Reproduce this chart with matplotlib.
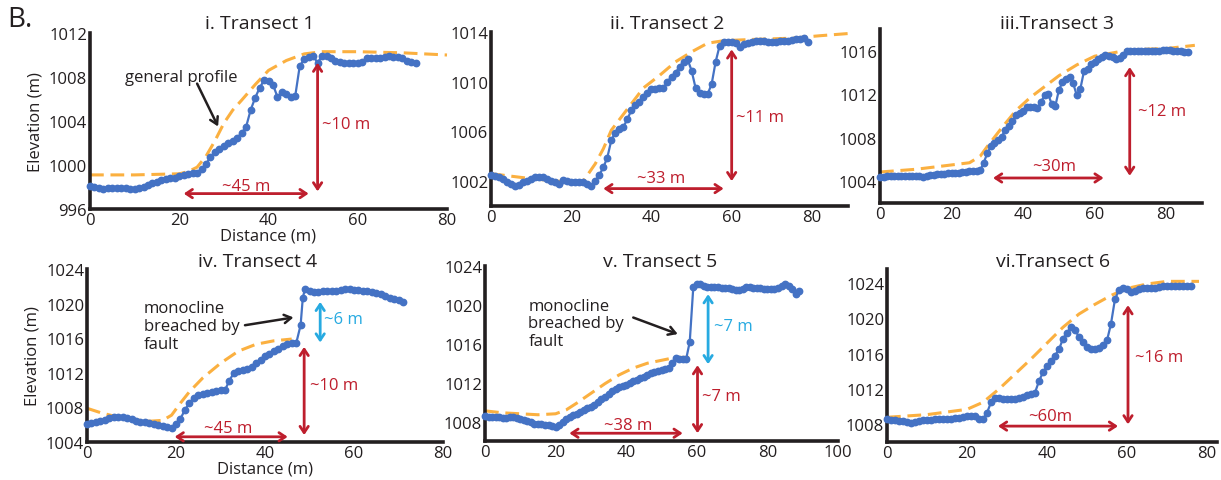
import matplotlib.pyplot as plt

plt.rcParams['font.family'] = ['Open Sans', 'DejaVu Sans']

# transect 1 (distance every metre)
t1_dist = list(range(0, 74))
t1_elev = [998.1, 998.0, 997.9, 997.85, 997.9, 997.95, 997.9, 997.95, 997.9, 997.85,
           997.85, 997.9, 998.0, 998.2, 998.35, 998.5, 998.6, 998.7, 998.8, 998.85,
           999.0, 999.1, 999.2, 999.25, 999.3, 999.6, 1000.1, 1000.7, 1001.2, 1001.5,
           1001.7, 1002.0, 1002.2, 1002.5, 1002.9, 1003.5, 1005.0, 1006.1, 1007.0, 1007.7,
           1007.6, 1007.3, 1006.2, 1006.6, 1006.5, 1006.2, 1006.3, 1009.0, 1009.6, 1009.8,
           1009.9, 1009.3, 1009.9, 1009.9, 1009.7, 1009.5, 1009.4, 1009.3, 1009.3, 1009.3,
           1009.3, 1009.4, 1009.7, 1009.7, 1009.7, 1009.7, 1009.8, 1009.9, 1009.8, 1009.8,
           1009.7, 1009.5, 1009.4, 1009.3]
t1_prof_dist = [0, 10, 20, 22, 24, 26, 28, 30, 32, 34, 37, 40, 44, 48, 52, 60, 70, 80]
t1_prof_elev = [999.1, 999.1, 999.2, 999.4, 999.8, 1000.8, 1002.2, 1003.8, 1005.0, 1005.9, 1007.3,
                1008.6, 1009.5, 1010.1, 1010.3, 1010.3, 1010.2, 1010.0]

# transect 2
t2_dist = list(range(0, 80))
t2_elev = [1002.5, 1002.45, 1002.35, 1002.2, 1001.9, 1001.75, 1001.6, 1001.7, 1001.9, 1002.0,
           1002.2, 1002.35, 1002.35, 1002.35, 1002.2, 1002.0, 1001.9, 1001.8, 1002.1, 1002.0,
           1001.9, 1001.95, 1001.95, 1001.9, 1001.8, 1001.6, 1002.0, 1002.5, 1003.1, 1003.9,
           1005.3, 1005.9, 1006.2, 1006.35, 1007.0, 1007.7, 1008.1, 1008.4, 1008.8, 1009.1,
           1009.4, 1009.45, 1009.5, 1009.5, 1010.0, 1010.4, 1010.7, 1011.2, 1011.6, 1011.8,
           1010.9, 1009.5, 1009.1, 1009.0, 1009.0, 1009.8, 1011.6, 1012.9, 1013.2, 1013.2,
           1013.2, 1013.1, 1012.8, 1013.0, 1013.1, 1013.2, 1013.3, 1013.3, 1013.25, 1013.2,
           1013.2, 1013.2, 1013.25, 1013.3, 1013.3, 1013.35, 1013.4, 1013.45, 1013.5, 1013.2]
t2_prof_dist = [0, 10, 20, 23, 26, 28, 30, 34, 38, 42, 46, 50, 54, 58, 65, 75, 82, 90]
t2_prof_elev = [1002.6, 1002.2, 1001.9, 1002.0, 1003.4, 1004.6, 1006.1, 1007.8, 1009.5, 1010.5,
                1011.6, 1012.4, 1013.1, 1013.3, 1013.4, 1013.5, 1013.7, 1013.9]

# transect 3
t3_dist = list(range(0, 87))
t3_elev = [1004.4, 1004.4, 1004.45, 1004.45, 1004.5, 1004.5, 1004.5, 1004.5, 1004.5, 1004.5,
           1004.5, 1004.45, 1004.4, 1004.5, 1004.55, 1004.6, 1004.65, 1004.7, 1004.7, 1004.75,
           1004.8, 1004.8, 1004.8, 1004.85, 1004.85, 1004.9, 1004.9, 1004.95, 1005.0, 1005.7,
           1006.6, 1007.2, 1007.5, 1007.8, 1008.1, 1008.7, 1009.1, 1009.5, 1010.1, 1010.3,
           1010.5, 1010.8, 1010.8, 1010.8, 1010.7, 1011.3, 1011.9, 1012.0, 1011.1, 1010.9,
           1012.4, 1013.1, 1013.4, 1013.6, 1013.0, 1011.9, 1012.5, 1014.1, 1014.3, 1014.8,
           1015.0, 1015.2, 1015.4, 1015.6, 1015.5, 1015.4, 1015.2, 1015.3, 1015.6, 1016.0,
           1016.0, 1016.0, 1016.0, 1015.95, 1015.95, 1015.95, 1015.95, 1016.0, 1016.0, 1016.05,
           1016.1, 1016.05, 1016.0, 1016.0, 1015.95, 1015.9, 1015.9]
t3_prof_dist = [0, 10, 20, 25, 28, 30, 34, 38, 42, 46, 50, 55, 60, 65, 70, 80, 88]
t3_prof_elev = [1004.85, 1005.1, 1005.5, 1005.7, 1006.3, 1007.2, 1008.9, 1010.5, 1011.7, 1012.7,
                1013.7, 1014.7, 1015.5, 1015.8, 1016.1, 1016.2, 1016.5]

# transect 4
t4_dist = list(range(0, 49)) + [48.5] + list(range(49, 72))
t4_elev = [1006.1, 1006.2, 1006.3, 1006.45, 1006.6, 1006.75, 1006.9, 1006.9, 1006.9, 1006.8,
           1006.7, 1006.4, 1006.3, 1006.3, 1006.2, 1006.1, 1006.0, 1005.8, 1005.7, 1005.6,
           1006.1, 1006.7, 1007.7, 1008.5, 1009.1, 1009.4, 1009.6, 1009.7, 1009.8, 1009.9,
           1010.0, 1010.0, 1011.1, 1012.0, 1012.2, 1012.3, 1012.4, 1012.7, 1013.1, 1013.5,
           1013.9, 1014.2, 1014.5, 1014.8, 1015.1, 1015.3, 1015.5, 1015.4, 1017.5, 1020.7,
           1021.7, 1021.5, 1021.3, 1021.3, 1021.4, 1021.4, 1021.45, 1021.5, 1021.6, 1021.7,
           1021.65, 1021.6, 1021.55, 1021.5, 1021.4, 1021.3, 1021.2, 1021.1, 1020.9, 1020.7,
           1020.5, 1020.4, 1020.2]
t4_prof_dist = [0, 3, 6, 10, 14, 17, 19, 21, 23, 26, 30, 34, 38, 42, 46]
t4_prof_elev = [1007.9, 1007.4, 1007.0, 1006.6, 1006.4, 1006.5, 1007.1, 1008.5, 1009.8, 1011.4,
                1013.1, 1014.5, 1015.3, 1015.7, 1015.9]

# transect 5
t5_dist = list(range(0, 90))
t5_elev = [1008.55, 1008.5, 1008.5, 1008.5, 1008.45, 1008.4, 1008.4, 1008.45, 1008.5, 1008.4,
           1008.3, 1008.2, 1008.1, 1007.95, 1007.8, 1007.75, 1007.7, 1007.65, 1007.6, 1007.55,
           1007.45, 1007.6, 1008.0, 1008.25, 1008.5, 1008.65, 1008.8, 1009.0, 1009.2, 1009.35,
           1009.5, 1009.75, 1010.0, 1010.3, 1010.55, 1010.8, 1011.1, 1011.35, 1011.6, 1011.7,
           1011.8, 1012.0, 1012.2, 1012.3, 1012.45, 1012.6, 1012.8, 1012.95, 1013.1, 1013.2,
           1013.3, 1013.4, 1013.5, 1014.0, 1014.5, 1014.45, 1014.45, 1014.45, 1016.2, 1021.8,
           1022.2, 1022.1, 1021.95, 1021.85, 1021.8, 1021.8, 1021.8, 1021.75, 1021.7, 1021.7,
           1021.6, 1021.55, 1021.5, 1021.65, 1021.8, 1021.8, 1021.75, 1021.7, 1021.7, 1021.65,
           1021.6, 1021.6, 1021.65, 1021.7, 1021.9, 1022.1, 1021.9, 1021.6, 1021.1, 1021.4]
t5_prof_dist = [0, 5, 10, 15, 20, 23, 26, 30, 34, 38, 42, 46, 50, 54, 58]
t5_prof_elev = [1009.1, 1008.9, 1008.8, 1008.7, 1008.8, 1009.2, 1009.9, 1010.9, 1011.9, 1012.8,
                1013.5, 1014.0, 1014.3, 1014.6, 1014.6]

# transect 6
t6_dist = list(range(0, 77))
t6_elev = [1008.6, 1008.5, 1008.45, 1008.4, 1008.35, 1008.3, 1008.2, 1008.3, 1008.4, 1008.45,
           1008.5, 1008.5, 1008.55, 1008.55, 1008.6, 1008.65, 1008.65, 1008.7, 1008.75, 1008.85,
           1008.95, 1008.95, 1008.9, 1008.6, 1008.6, 1009.3, 1010.5, 1011.0, 1011.0, 1010.9,
           1010.85, 1010.85, 1010.9, 1011.0, 1011.15, 1011.3, 1011.45, 1011.6, 1012.9, 1013.9,
           1014.6, 1015.2, 1015.8, 1016.5, 1017.7, 1018.4, 1019.0, 1018.7, 1017.9, 1017.3,
           1016.8, 1016.5, 1016.5, 1016.7, 1017.0, 1017.5, 1019.4, 1022.2, 1023.2, 1023.4,
           1023.3, 1023.0, 1023.1, 1023.3, 1023.4, 1023.4, 1023.45, 1023.5, 1023.6, 1023.65,
           1023.7, 1023.7, 1023.7, 1023.7, 1023.7, 1023.7, 1023.7]
t6_prof_dist = [0, 5, 10, 15, 20, 24, 28, 32, 36, 40, 44, 48, 52, 56, 60, 65, 70, 78]
t6_prof_elev = [1008.8, 1008.95, 1009.1, 1009.4, 1009.7, 1010.5, 1012.0, 1013.7, 1015.4, 1017.2,
                1019.0, 1020.5, 1021.6, 1022.6, 1023.4, 1023.9, 1024.2, 1024.2]

titles = ['i. Transect 1', 'ii. Transect 2', 'iii.Transect 3',
          'iv. Transect 4', 'v. Transect 5', 'vi.Transect 6']

blue = '#4472C4'
orange = '#FBB040'
red = '#BE1E2D'
cyan = '#27AAE1'
ink = '#231F20'

W, H = 1221, 481
fig = plt.figure(figsize=(W / 100, H / 100), dpi=100)


def make_ax(l, r, b, t):
    return fig.add_axes([l / W, (H - b) / H, (r - l) / W, (b - t) / H])


def style(ax, xlim, ylim, yticks, xticks):
    ax.set_xlim(*xlim)
    ax.set_ylim(*ylim)
    ax.set_yticks(yticks)
    ax.set_xticks(xticks)
    for s in ['top', 'right']:
        ax.spines[s].set_visible(False)
    for s in ['left', 'bottom']:
        ax.spines[s].set_linewidth(2.6)
        ax.spines[s].set_color(ink)
    ax.tick_params(length=0, labelsize=12, colors=ink, pad=2)
    ax.patch.set_alpha(0)


def profile(ax, d, e, pd, pe):
    ax.plot(pd, pe, color=orange, lw=2.2, ls=(0, (4.5, 2.2)), zorder=2, clip_on=False)
    ax.plot(d, e, color=blue, lw=1.6, marker='o', ms=4.6, zorder=3, clip_on=False)


def darrow(ax, p0, p1, c):
    ax.annotate('', xy=p1, xytext=p0,
                arrowprops=dict(arrowstyle='<->,head_length=0.45,head_width=0.3',
                                color=c, lw=2, shrinkA=0, shrinkB=0))


def pointer(ax, p0, p1):
    ax.annotate('', xy=p1, xytext=p0,
                arrowprops=dict(arrowstyle='->,head_length=0.5,head_width=0.3',
                                color=ink, lw=1.8, shrinkA=0, shrinkB=0))


axes = [make_ax(90, 447, 210, 34), make_ax(491, 848, 207, 33), make_ax(880, 1202, 204, 30),
        make_ax(87, 443, 443, 270), make_ax(485, 838, 442, 267), make_ax(887, 1217, 443, 270)]
ax1, ax2, ax3, ax4, ax5, ax6 = axes

# panel 1
profile(ax1, t1_dist, t1_elev, t1_prof_dist, t1_prof_elev)
style(ax1, (0, 80), (996, 1012), [996, 1000, 1004, 1008, 1012], [0, 20, 40, 60, 80])
darrow(ax1, (21, 997.4), (49, 997.4), red)
ax1.text(35, 998.1, '~45 m', color=red, fontsize=12, ha='center', va='center')
darrow(ax1, (51, 1009.3), (51, 997.6), red)
ax1.text(52, 1003.7, '~10 m', color=red, fontsize=12, ha='left', va='center')
ax1.text(20.5, 1008, 'general profile', fontsize=12, ha='center', va='center', color=ink)
pointer(ax1, (24, 1007.4), (28.7, 1003.5))
ax1.set_ylabel('Elevation (m)', fontsize=12, labelpad=4, color=ink)
ax1.set_xlabel('Distance (m)', fontsize=12, labelpad=0, color=ink)

# panel 2
profile(ax2, t2_dist, t2_elev, t2_prof_dist, t2_prof_elev)
style(ax2, (0, 89), (1000, 1014), [1002, 1006, 1010, 1014], [0, 20, 40, 60, 80])
darrow(ax2, (28, 1001.4), (58, 1001.4), red)
ax2.text(42.4, 1002.25, '~33 m', color=red, fontsize=12, ha='center', va='center')
darrow(ax2, (60, 1012.6), (60, 1002.0), red)
ax2.text(61, 1007.2, '~11 m', color=red, fontsize=12, ha='left', va='center')

# panel 3
profile(ax3, t3_dist, t3_elev, t3_prof_dist, t3_prof_elev)
style(ax3, (0, 90), (1002, 1018), [1004, 1008, 1012, 1016], [0, 20, 40, 60, 80])
darrow(ax3, (31.6, 1004.3), (62.5, 1004.3), red)
ax3.text(48.6, 1005.4, '~30m', color=red, fontsize=12, ha='center', va='center')
darrow(ax3, (69.8, 1014.5), (69.8, 1004.5), red)
ax3.text(72, 1010.5, '~12 m', color=red, fontsize=12, ha='left', va='center')

# panel 4
profile(ax4, t4_dist, t4_elev, t4_prof_dist, t4_prof_elev)
style(ax4, (0, 79), (1004, 1024), [1004, 1008, 1012, 1016, 1020, 1024], [0, 20, 40, 60, 80])
darrow(ax4, (19.7, 1004.6), (45.1, 1004.6), red)
ax4.text(31.8, 1005.6, '~45 m', color=red, fontsize=12, ha='center', va='center')
darrow(ax4, (48.8, 1015.0), (48.8, 1004.8), red)
ax4.text(50.2, 1010.6, '~10 m', color=red, fontsize=12, ha='left', va='center')
darrow(ax4, (52.4, 1020.2), (52.4, 1015.5), cyan)
ax4.text(53.3, 1018.2, '~6 m', color=cyan, fontsize=12, ha='left', va='center')
ax4.text(12.7, 1017.4, 'monocline\nbreached by\nfault', fontsize=12, ha='left', va='center',
         linespacing=1.15, color=ink)
pointer(ax4, (35.5, 1017.5), (46.4, 1018.4))
ax4.set_ylabel('Elevation (m)', fontsize=12, labelpad=4, color=ink)
ax4.set_xlabel('Distance (m)', fontsize=12, labelpad=0, color=ink)

# panel 5
profile(ax5, t5_dist, t5_elev, t5_prof_dist, t5_prof_elev)
style(ax5, (0, 98.5), (1006, 1024), [1008, 1012, 1016, 1020, 1024], [0, 20, 40, 60, 80, 100])
darrow(ax5, (23.9, 1006.8), (56, 1006.8), red)
ax5.text(40.6, 1007.6, '~38 m', color=red, fontsize=12, ha='center', va='center')
darrow(ax5, (60.2, 1013.8), (60.2, 1006.8), red)
ax5.text(61.5, 1010.6, '~7 m', color=red, fontsize=12, ha='left', va='center')
darrow(ax5, (63.2, 1021.1), (63.2, 1013.9), cyan)
ax5.text(65, 1017.8, '~7 m', color=cyan, fontsize=12, ha='left', va='center')
ax5.text(12.3, 1018.1, 'monocline\nbreached by\nfault', fontsize=12, ha='left', va='center',
         linespacing=1.15, color=ink)
pointer(ax5, (42, 1018.7), (54.6, 1017.0))

# panel 6
profile(ax6, t6_dist, t6_elev, t6_prof_dist, t6_prof_elev)
style(ax6, (0, 82.5), (1006, 1025.6), [1008, 1012, 1016, 1020, 1024], [0, 20, 40, 60, 80])
darrow(ax6, (27.75, 1007.8), (57.75, 1007.8), red)
ax6.text(40.8, 1009.0, '~60m', color=red, fontsize=12, ha='center', va='center')
darrow(ax6, (60.25, 1021.5), (60.25, 1008.0), red)
ax6.text(62, 1015.6, '~16 m', color=red, fontsize=12, ha='left', va='center')

# titles placed over each panel
title_pos = [(260, 24), (667, 24), (1057, 24), (258, 262), (660, 262), (1053, 262)]
for t, (px, py) in zip(titles, title_pos):
    fig.text(px / W, 1 - py / H, t, fontsize=14, ha='center', va='center', color=ink)

fig.text(7 / W, 1 - 20 / H, 'B.', fontsize=20, ha='left', va='center', color=ink)

fig.savefig('out.png', dpi=100)
